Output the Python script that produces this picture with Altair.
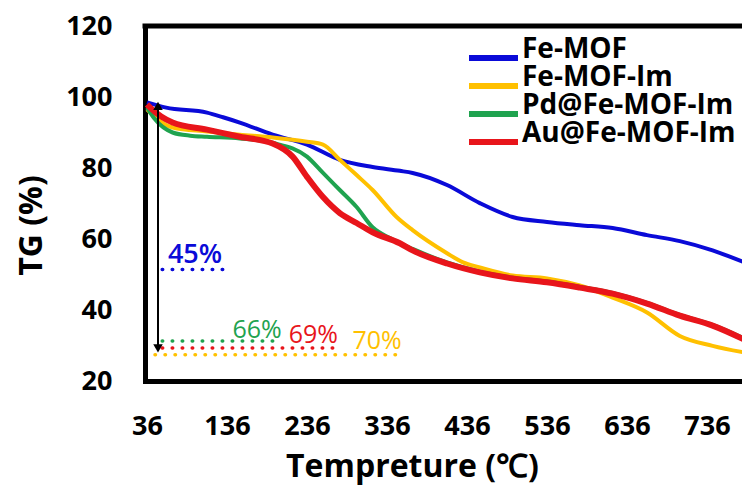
import altair as alt
import pandas as pd

# ---- data ----
series_names = ["Fe-MOF", "Fe-MOF-Im", "Pd@Fe-MOF-Im", "Au@Fe-MOF-Im"]
series_colors = ["#0A0AD8", "#FFC000", "#1FA34F", "#E8151B"]

fe_mof_t = [36, 60, 111, 131, 152, 193, 236, 277, 318, 352, 368, 411, 452, 493, 536, 577, 618, 661, 702, 743, 786]
fe_mof_tg = [98.5, 97.0, 95.6, 94.3, 92.8, 89.4, 86.6, 82.3, 80.3, 79.2, 78.6, 75.2, 70.1, 66.2, 64.8, 63.9, 63.1, 61.1, 59.4, 56.8, 53.1]

fe_mof_im_t = [36, 45, 68, 111, 152, 193, 236, 256, 277, 298, 318, 348, 368, 411, 431, 452, 493, 536, 577, 618, 661, 702, 743, 786]
fe_mof_im_tg = [96.5, 94.5, 91.4, 90.3, 89.4, 88.6, 87.4, 86.6, 82.3, 78.0, 73.8, 66.2, 62.5, 56.0, 53.4, 52.0, 49.7, 48.9, 46.9, 43.5, 39.3, 32.7, 29.9, 27.9]

pd_t = [36, 45, 68, 90, 111, 152, 193, 236, 256, 277, 298, 318, 340, 368, 411, 452, 493, 536, 577, 618, 661, 702, 743, 786]
pd_tg = [97.0, 94.0, 90.0, 89.1, 88.8, 88.3, 87.1, 83.2, 78.6, 73.8, 69.0, 63.3, 60.2, 57.2, 53.4, 50.8, 49.1, 48.0, 46.5, 44.8, 42.0, 38.6, 35.8, 31.6]

au_t = [36, 40, 68, 111, 152, 193, 218, 236, 256, 277, 298, 318, 352, 368, 411, 452, 493, 536, 577, 618, 661, 702, 743, 786]
au_tg = [97.9, 97.0, 92.8, 90.8, 88.8, 86.9, 83.2, 77.5, 71.8, 67.3, 64.5, 61.9, 58.8, 56.8, 53.1, 50.6, 48.9, 47.8, 46.3, 44.6, 41.8, 38.4, 35.6, 31.3]

x_ticks = [36, 136, 236, 336, 436, 536, 636, 736]
y_ticks = [20, 40, 60, 80, 100, 120]

# residue annotations (dotted level lines and mass-loss labels)
ann_series = ["Fe-MOF", "Pd@Fe-MOF-Im", "Au@Fe-MOF-Im", "Fe-MOF-Im"]
ann_level = [51.4, 31.3, 29.3, 27.4]
ann_t0 = [55, 55, 55, 46]
ann_t1 = [131, 202, 277, 356]
ann_text = ["45%", "66%", "69%", "70%"]
ann_text_t = [96, 173.5, 244, 323.5]
ann_text_tg = [53.1, 32.2, 30.8, 29.1]

# double arrow
arrow_t = [49.75]
arrow_top = [97.5]
arrow_bottom = [29.2]

# ---- tables ----
curves = {
    "Fe-MOF": (fe_mof_t, fe_mof_tg),
    "Fe-MOF-Im": (fe_mof_im_t, fe_mof_im_tg),
    "Pd@Fe-MOF-Im": (pd_t, pd_tg),
    "Au@Fe-MOF-Im": (au_t, au_tg),
}

ann = pd.DataFrame({"series": ann_series, "level": ann_level, "t0": ann_t0, "t1": ann_t1,
                    "text": ann_text, "tx": ann_text_t, "ty": ann_text_tg})
arrow = pd.DataFrame({"t": arrow_t, "top": arrow_top, "bottom": arrow_bottom})

W, H = 597, 355
FONT = "Open Sans"

xscale = alt.Scale(domain=[33.5, 779.75], nice=False, zero=False)
yscale = alt.Scale(domain=[20, 120], nice=False, zero=False)
cscale = alt.Scale(domain=series_names, range=series_colors)

x_axis = alt.Axis(values=x_ticks, title="Tempreture (℃)", labelPadding=32, titleX=267, titleY=95,
                  titleBaseline="alphabetic", titleAlign="center", titleFontSize=32)
y_axis = alt.Axis(values=y_ticks, title="TG (%)", labelPadding=33, titleX=-114, titleY=199,
                  titleAngle=270, titleAlign="center", titleBaseline="middle", titleFontSize=32)

# line-shaped legend symbol, drawn mostly to the left of its anchor so that the
# legend rows stay compact
legend = alt.Legend(orient="none", legendX=345, legendY=18, title=None,
                    symbolType="M-7,0H2.8", symbolSize=100, symbolStrokeWidth=6,
                    labelFont=FONT, labelFontWeight="bold",
                    labelFontSize=28, labelColor="black", rowPadding=-6, labelOffset=4,
                    labelLimit=500, labelBaseline="alphabetic", padding=0)


def X(field):
    return alt.X(field, scale=xscale, axis=x_axis)


def Y(field):
    return alt.Y(field, scale=yscale, axis=y_axis)


def C(lg=None):
    return alt.Color("series:N", scale=cscale, legend=lg)


layers = []
widths = [4, 4, 4, 6]
for i, name in enumerate(series_names):
    t, tg = curves[name]
    df = pd.DataFrame({"t": t, "tg": tg, "series": name})
    layers.append(
        alt.Chart(df).mark_line(strokeWidth=widths[i], interpolate="monotone", clip=True).encode(
            x=X("t:Q"), y=Y("tg:Q"), color=C(legend)))

dots = alt.Chart(ann).mark_rule(strokeDash=[0.5, 9.5], strokeCap="round", strokeWidth=3.5).encode(
    x=X("t0:Q"), x2="t1:Q", y=Y("level:Q"), color=C(legend))

labels_big = alt.Chart(ann[ann["text"] == "45%"]).mark_text(
    font=FONT, fontSize=27, fontWeight=600, align="center", baseline="alphabetic").encode(
    x=X("tx:Q"), y=Y("ty:Q"), text="text:N", color=C(legend))

labels_small = alt.Chart(ann[ann["text"] != "45%"]).mark_text(
    font=FONT, fontSize=25, fontWeight="normal", align="center", baseline="alphabetic").encode(
    x=X("tx:Q"), y=Y("ty:Q"), text="text:N", color=C(legend))

arrow_line = alt.Chart(arrow).mark_rule(color="black", strokeWidth=2).encode(
    x=X("t:Q"), y=Y("top:Q"), y2="bottom:Q")
arrow_up = alt.Chart(arrow).mark_point(shape="triangle-up", filled=True, color="black", size=90, opacity=1).encode(
    x=X("t:Q"), y=Y("top:Q"))
arrow_down = alt.Chart(arrow).mark_point(shape="triangle-down", filled=True, color="black", size=90, opacity=1).encode(
    x=X("t:Q"), y=Y("bottom:Q"))

top_border = alt.Chart(pd.DataFrame({"k": [0]})).mark_rule(color="black", strokeWidth=5, strokeCap="square").encode(
    x=alt.value(0), x2=alt.value(W), y=alt.value(0))

chart = alt.layer(*layers, dots, labels_big, labels_small, arrow_line, arrow_up, arrow_down, top_border).properties(
    width=W, height=H,
    autosize=alt.AutoSizeParams(type="none"),
    padding={"left": 137, "top": 18, "right": 0, "bottom": 104},
).configure_view(stroke=None).configure_axis(
    labelFont=FONT, labelFontWeight="bold", labelFontSize=27, labelColor="black",
    titleFont=FONT, titleFontWeight="bold", titleColor="black",
    domainColor="black", domainWidth=5, domainCap="square",
    ticks=False, tickSize=0, grid=False,
)

chart.save("out.html", embed_options={"renderer": "svg", "actions": False})
